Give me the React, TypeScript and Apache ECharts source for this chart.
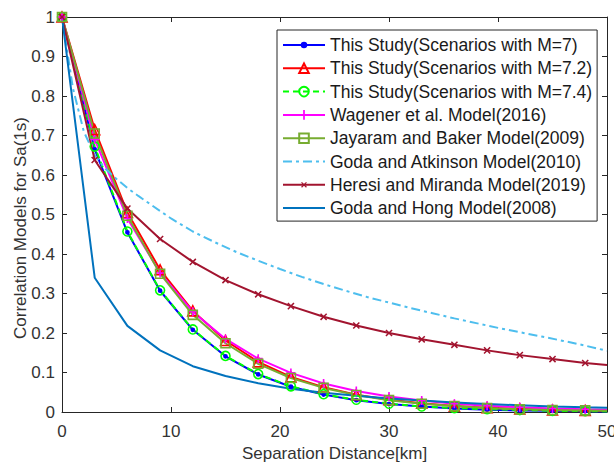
import React, { useEffect, useRef } from "react";
import * as echarts from "echarts";

// Separation distance (km) at which model values are plotted
const distStudy = [0, 3, 6, 9, 12, 15, 18, 21, 24, 27, 30, 33, 36, 39, 42, 45, 48, 50];
const distGA = [0, 1, 2, 3, 4, 5, 6, 7, 8, 10, 12, 14, 16, 18, 20, 22, 24, 26, 28, 30, 32, 34, 36, 38, 40, 42, 44, 46, 48, 50];

const studyM7 = [1, 0.665, 0.455, 0.307, 0.208, 0.141, 0.095, 0.064, 0.044, 0.03, 0.02, 0.014, 0.009, 0.006, 0.004, 0.003, 0.002, 0.0015];
const studyM72 = [1, 0.715, 0.505, 0.36, 0.256, 0.181, 0.127, 0.089, 0.063, 0.044, 0.031, 0.022, 0.015, 0.011, 0.008, 0.005, 0.004, 0.003];
const studyM74 = [1, 0.672, 0.457, 0.308, 0.209, 0.142, 0.096, 0.065, 0.045, 0.031, 0.021, 0.014, 0.01, 0.007, 0.005, 0.003, 0.002, 0.0015];
const wagener = [1, 0.69, 0.49, 0.352, 0.254, 0.185, 0.135, 0.099, 0.072, 0.053, 0.039, 0.029, 0.021, 0.016, 0.012, 0.009, 0.007, 0.006];
const jayaram = [1, 0.705, 0.497, 0.35, 0.246, 0.174, 0.122, 0.086, 0.061, 0.043, 0.03, 0.021, 0.015, 0.01, 0.007, 0.005, 0.004, 0.003];
const godaAtkinson = [1, 0.82, 0.71, 0.65, 0.615, 0.59, 0.567, 0.547, 0.528, 0.49, 0.457, 0.43, 0.405, 0.383, 0.362, 0.342, 0.324, 0.307, 0.291, 0.277, 0.263, 0.25, 0.237, 0.225, 0.213, 0.202, 0.191, 0.18, 0.168, 0.155];
const heresi = [1, 0.638, 0.515, 0.438, 0.38, 0.334, 0.298, 0.268, 0.241, 0.219, 0.2, 0.184, 0.17, 0.156, 0.144, 0.134, 0.124, 0.119];
const godaHong = [1, 0.34, 0.218, 0.156, 0.116, 0.091, 0.073, 0.059, 0.049, 0.041, 0.034, 0.029, 0.024, 0.02, 0.017, 0.014, 0.012, 0.011];

const names = [
  "This Study(Scenarios with M=7)",
  "This Study(Scenarios with M=7.2)",
  "This Study(Scenarios with M=7.4)",
  "Wagener et al. Model(2016)",
  "Jayaram and Baker Model(2009)",
  "Goda and Atkinson Model(2010)",
  "Heresi and Miranda Model(2019)",
  "Goda and Hong Model(2008)",
];

const FONT = "Liberation Sans, Arial, Helvetica, sans-serif";
const AX = "#262626";
const TXT = "#333333";

// tiny corner specks keep a 10x10 bounding box so the visible glyph is padded
const SPECKS = "M0,0H0.01V0.01H0Z M9.99,9.99H10V10H9.99Z ";
const DOT = "path://" + SPECKS + "M1.6,5A3.4,3.4 0 1 0 8.4,5A3.4,3.4 0 1 0 1.6,5Z";
const PLUS = "path://M4.1,0H5.9V4.1H10V5.9H5.9V10H4.1V5.9H0V4.1H4.1Z";
const CROSS =
  "path://" + SPECKS + "M2,2.9L2.9,2L5,4.1L7.1,2L8,2.9L5.9,5L8,7.1L7.1,8L5,5.9L2.9,8L2,7.1L4.1,5Z";

function pairs(xs: number[], ys: number[], lastBare: boolean) {
  return xs.map((x, i) => {
    if (lastBare && x === 50) return { value: [x, ys[i]], symbol: "none" };
    return { value: [x, ys[i]] };
  });
}

export default function App() {
  const ref = useRef<HTMLDivElement>(null);
  useEffect(() => {
    if (!ref.current) return;
    const chart = echarts.init(ref.current, undefined, { renderer: "svg" });
    const mk = (
      name: string,
      xs: number[],
      ys: number[],
      color: string,
      symbol: string,
      size: number,
      hollow: boolean,
      lineType: any,
      lastBare: boolean
    ) => ({
      name,
      type: "line",
      data: pairs(xs, ys, lastBare),
      symbol,
      symbolSize: size,
      showSymbol: symbol !== "none",
      lineStyle: { color, width: 2, type: lineType },
      itemStyle: hollow
        ? { color: "rgba(255,255,255,0)", borderColor: color, borderWidth: 1.6 }
        : { color, borderWidth: 0 },
      emphasis: { disabled: true },
    });
    const series = [
      mk(names[0], distStudy, studyM7, "#0000FF", DOT, 7, false, "solid", true),
      mk(names[1], distStudy, studyM72, "#FF0000", "triangle", 10, true, "solid", true),
      mk(names[2], distStudy, studyM74, "#00FF00", "circle", 9, true, [6, 4], true),
      mk(names[3], distStudy, wagener, "#FF00FF", PLUS, 9, false, "solid", true),
      mk(names[4], distStudy, jayaram, "#77AC30", "rect", 9, true, "solid", true),
      mk(names[5], distGA, godaAtkinson, "#4DBEEE", "none", 0, false, [9, 4, 3, 4], false),
      mk(names[6], distStudy, heresi, "#A2142F", CROSS, 12, false, "solid", true),
      mk(names[7], distStudy, godaHong, "#0072BD", "none", 0, false, "solid", false),
    ];
    const axisBase = {
      type: "value" as const,
      axisLine: { show: true, onZero: false, lineStyle: { color: AX, width: 1 } },
      axisTick: { show: true, inside: true, length: 5, lineStyle: { color: AX, width: 1 } },
      splitLine: { show: false },
    };
    const fmtY = (v: number) => {
      const s = v.toFixed(1);
      if (s === "1.0") return "1";
      if (s === "0.0") return "0";
      return s;
    };
    const noIcon = { color: "rgba(0,0,0,0)", borderWidth: 0 };
    chart.setOption({
      animation: false,
      backgroundColor: "#ffffff",
      grid: { left: 62, right: 7, top: 17, bottom: 50, containLabel: false, outerBoundsMode: "none" },
      xAxis: [
        {
          ...axisBase,
          position: "bottom",
          min: 0,
          max: 50,
          interval: 10,
          axisLabel: { color: TXT, fontSize: 17, margin: 11, fontFamily: FONT },
          name: "Separation Distance[km]",
          nameLocation: "middle",
          nameGap: 32,
          nameTextStyle: { color: TXT, fontSize: 17, fontFamily: FONT },
        },
        {
          ...axisBase,
          position: "top",
          min: 0,
          max: 50,
          interval: 10,
          axisLabel: { show: false },
        },
      ],
      yAxis: [
        {
          ...axisBase,
          position: "left",
          min: 0,
          max: 1,
          interval: 0.1,
          axisLabel: { color: TXT, fontSize: 17, margin: 7, fontFamily: FONT, formatter: fmtY },
        },
        {
          ...axisBase,
          position: "right",
          min: 0,
          max: 1,
          interval: 0.1,
          axisLabel: { show: false },
        },
      ],
      graphic: [
        {
          type: "text",
          x: 20,
          y: 228,
          rotation: Math.PI / 2,
          style: {
            text: "Correlation Models for Sa(1s)",
            fill: TXT,
            font: "17px " + FONT,
            align: "center",
            verticalAlign: "middle",
          },
        },
      ],
      legend: {
        orient: "vertical",
        left: 277,
        top: 30,
        padding: [5, 5, 3, 5],
        itemWidth: 42,
        itemHeight: 12,
        itemGap: 3.3,
        backgroundColor: "#ffffff",
        borderColor: AX,
        borderWidth: 1,
        borderRadius: 0,
        textStyle: { color: "#1a1a1a", fontSize: 17.5, fontFamily: FONT, lineHeight: 20 },
        data: names.map((n, i) =>
          i === 5 || i === 7 ? { name: n, itemStyle: noIcon } : { name: n }
        ),
        selectedMode: false,
      },
      series,
    });
    return () => chart.dispose();
  }, []);
  return (
    <div
      ref={ref}
      style={{ position: "fixed", left: 0, top: 0, width: 614, height: 462 }}
    />
  );
}
